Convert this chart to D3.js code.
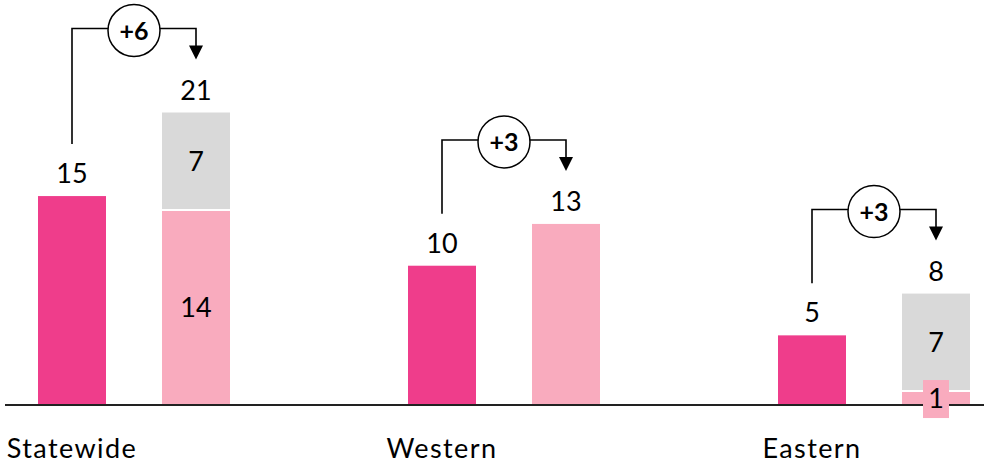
<!DOCTYPE html>
<html><head><meta charset="utf-8">
<script src="https://cdn.jsdelivr.net/npm/d3@7"></script>
<style>body{margin:0;background:#fff}svg{display:block}text{font-family:Lato,"Open Sans",sans-serif}</style>
</head><body><svg id="c" width="984" height="465"></svg>
<script>
const categories = ["Statewide", "Western", "Eastern"];
const beforeValues = [15, 10, 5];
const afterBase = [14, 13, 1];
const afterAdded = [7, 0, 7];
const afterTotals = [21, 13, 8];
const deltas = ["+6", "+3", "+3"];

const svg = d3.select("#c");
const W = 984, H = 465;
const baseY = 405;
const x = d3.scaleBand().domain(categories).range([-51, 1059]).paddingInner(0).paddingOuter(0);
const xi = d3.scaleBand().domain(["before", "after"]).range([89, 281]).paddingInner(0.4516).paddingOuter(0);
const y = d3.scaleLinear().domain([0, 21]).range([baseY, 112.5]);
const bw = xi.bandwidth();

const C_DARK = "#EF3D8B", C_LIGHT = "#F9ABBE", C_GREY = "#D9D9D9";

const g = svg.append("g");
categories.forEach((cat, i) => {
  const x1 = x(cat) + xi("before"), x2 = x(cat) + xi("after");
  g.append("rect").attr("x", x1).attr("y", y(beforeValues[i])).attr("width", bw)
    .attr("height", y(0) - y(beforeValues[i])).attr("fill", C_DARK);
  const segs = [[0, afterBase[i], C_LIGHT], [afterBase[i], afterBase[i] + afterAdded[i], C_GREY]];
  segs.forEach(([a, b, col]) => {
    if (b - a <= 0) return;
    g.append("rect").attr("x", x2).attr("y", y(b)).attr("width", bw)
      .attr("height", y(a) - y(b)).attr("fill", col);
  });
  if (afterAdded[i] > 0) {
    g.append("line").attr("x1", x2).attr("x2", x2 + bw)
      .attr("y1", y(afterBase[i])).attr("y2", y(afterBase[i]))
      .attr("stroke", "#fff").attr("stroke-width", 2);
  }
});

svg.append("line").attr("x1", 5).attr("x2", W).attr("y1", baseY).attr("y2", baseY)
  .attr("stroke", "#222").attr("stroke-width", 2);

const fs = 27;
categories.forEach((cat, i) => {
  const c1 = x(cat) + xi("before") + bw / 2, c2 = x(cat) + xi("after") + bw / 2;
  const t1 = y(beforeValues[i]), t2 = y(afterTotals[i]);
  svg.append("text").attr("x", c1).attr("y", t1 - 13).attr("text-anchor", "middle")
    .attr("font-size", fs).attr("fill", "#000").text(beforeValues[i]);
  svg.append("text").attr("x", c2).attr("y", t2 - 13).attr("text-anchor", "middle")
    .attr("font-size", fs).attr("fill", "#000").text(afterTotals[i]);
  if (afterAdded[i] > 0) {
    const mid0 = (y(0) + y(afterBase[i])) / 2;
    const mid1 = (y(afterBase[i]) + y(afterTotals[i])) / 2;
    if (y(0) - y(afterBase[i]) < 30) {
      svg.append("rect").attr("x", c2 - 13).attr("y", mid0 - 18).attr("width", 26).attr("height", 38)
        .attr("fill", C_LIGHT);
    }
    svg.append("text").attr("x", c2).attr("y", mid0).attr("dy", "0.36em").attr("text-anchor", "middle")
      .attr("font-size", fs).attr("fill", "#000").text(afterBase[i]);
    svg.append("text").attr("x", c2).attr("y", mid1).attr("dy", "0.36em").attr("text-anchor", "middle")
      .attr("font-size", fs).attr("fill", "#000").text(afterAdded[i]);
  }
  const ly = t2 - 84, r = 26, cx = (c1 + c2) / 2;
  svg.append("path").attr("d", `M${c1},${t1 - 52}V${ly}H${cx - r}`).attr("fill", "none")
    .attr("stroke", "#000").attr("stroke-width", 1.6);
  svg.append("path").attr("d", `M${cx + r},${ly}H${c2}V${t2 - 64}`).attr("fill", "none")
    .attr("stroke", "#000").attr("stroke-width", 1.6);
  svg.append("path").attr("d", `M${c2 - 7},${t2 - 67}L${c2 + 7},${t2 - 67}L${c2},${t2 - 53}Z`).attr("fill", "#000");
  svg.append("circle").attr("cx", cx).attr("cy", ly + 2).attr("r", r).attr("fill", "#fff")
    .attr("stroke", "#000").attr("stroke-width", 1.5);
  svg.append("text").attr("x", cx).attr("y", ly + 2).attr("dy", "0.36em").attr("text-anchor", "middle")
    .attr("font-size", 25).attr("font-weight", "bold").attr("fill", "#000").text(deltas[i]);
  svg.append("text").attr("x", c1).attr("y", 458).attr("text-anchor", "middle")
    .attr("font-size", 27).attr("letter-spacing", "1.4px").attr("fill", "#000").text(cat);
});
</script></body></html>
